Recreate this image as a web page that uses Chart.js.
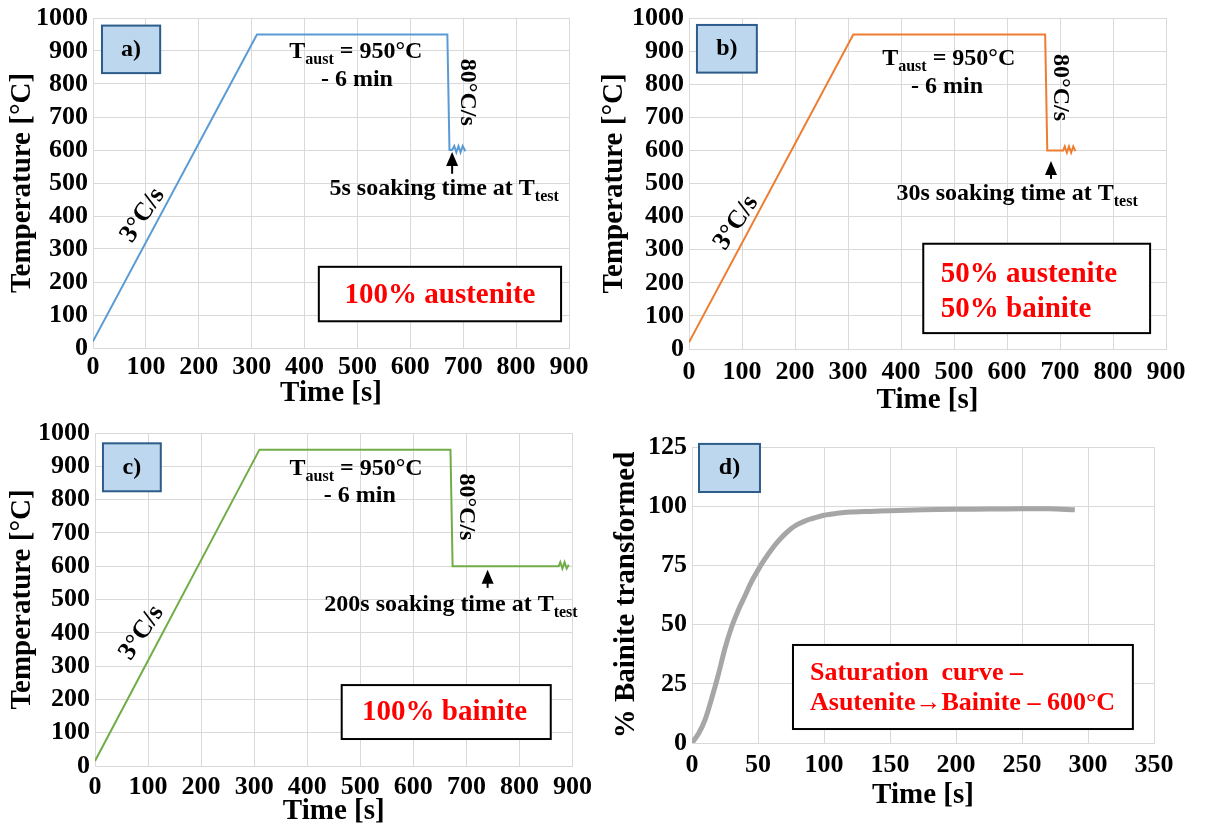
<!DOCTYPE html>
<html>
<head>
<meta charset="utf-8">
<script src="https://cdn.jsdelivr.net/npm/chart.js@4"></script>
<style>
  body { margin: 0; background: #fff; }
  #wrap { position: relative; width: 1206px; height: 825px; overflow: hidden; }
  canvas { position: absolute; }
</style>
</head>
<body>
<div id="wrap">
  <canvas id="chartA" width="600" height="412" style="left:0;top:0"></canvas>
  <canvas id="chartB" width="606" height="412" style="left:600px;top:0"></canvas>
  <canvas id="chartC" width="600" height="413" style="left:0;top:412px"></canvas>
  <canvas id="chartD" width="606" height="413" style="left:600px;top:412px"></canvas>
</div>
<script>
// 温度曲线数据 (a, b, c) 和贝氏体转变曲线 (d)
const aTime = [0, 310, 670, 674, 679, 683, 687, 691, 695, 699, 704];
const aTemp = [20, 950, 950, 600, 600, 612, 593, 612, 593, 612, 596];

const bTime = [0, 310, 672, 676, 706, 709, 713, 717, 721, 725, 729];
const bTemp = [20, 950, 950, 600, 600, 612, 593, 612, 593, 612, 598];

const cTime = [0, 310, 670, 674, 874, 877, 881, 885, 889, 893];
const cTemp = [15, 950, 950, 600, 600, 612, 593, 612, 593, 604];

const dTime = [0, 5, 10, 15, 20, 25, 30, 35, 40, 45, 50, 55, 60, 65, 70, 75, 80, 85, 90, 100, 110, 120, 135, 150, 175, 200, 225, 250, 270, 290];
const dPct  = [0, 4, 10, 19, 29, 40, 49, 56, 62, 68, 73, 77.5, 81.5, 85, 88, 90.5, 92.3, 93.6, 94.6, 96.2, 97, 97.5, 97.8, 98.1, 98.5, 98.7, 98.8, 98.9, 98.9, 98.5];

// 坐标轴刻度
const tempTicks = [0, 100, 200, 300, 400, 500, 600, 700, 800, 900, 1000];
const timeTicks = [0, 100, 200, 300, 400, 500, 600, 700, 800, 900];
const pctTicks = [0, 25, 50, 75, 100, 125];
const pctTimeTicks = [0, 50, 100, 150, 200, 250, 300, 350];

const FONT = "'Liberation Serif', 'Times New Roman', serif";

// 画注释: 方框, 文字, 箭头 (位置用数据坐标)
const overlayPlugin = {
  id: 'overlay',
  afterDatasetsDraw(chart, args, opts) {
    const ctx = chart.ctx;
    const px = v => chart.scales.x.getPixelForValue(v);
    const py = v => chart.scales.y.getPixelForValue(v);
    ctx.save();
    (opts.items || []).forEach(it => {
      if (it.type === 'box') {
        const x = px(it.x0), y = py(it.y0);
        const w = px(it.x1) - x, h = py(it.y1) - y;
        ctx.fillStyle = it.fill;
        ctx.fillRect(x, y, w, h);
        ctx.strokeStyle = it.stroke;
        ctx.lineWidth = it.lw;
        ctx.strokeRect(x, y, w, h);
      } else if (it.type === 'arrow') {
        const x = px(it.x), tip = py(it.tip), tail = py(it.tail);
        ctx.strokeStyle = '#000';
        ctx.fillStyle = '#000';
        ctx.lineWidth = 2;
        ctx.beginPath();
        ctx.moveTo(x, tip + 10);
        ctx.lineTo(x, tail);
        ctx.stroke();
        ctx.beginPath();
        ctx.moveTo(x, tip);
        ctx.lineTo(x - 6, tip + 14);
        ctx.lineTo(x + 6, tip + 14);
        ctx.closePath();
        ctx.fill();
      } else if (it.type === 'text') {
        ctx.save();
        ctx.translate(px(it.x), py(it.y));
        if (it.rotate) ctx.rotate(it.rotate * Math.PI / 180);
        ctx.fillStyle = it.color || '#000';
        ctx.textBaseline = it.baseline || 'alphabetic';
        ctx.textAlign = 'left';
        const size = it.size;
        const fontOf = p => 'bold ' + (p.sub ? Math.round(size * 0.68) : size) + 'px ' + FONT;
        let w = 0;
        it.parts.forEach(p => { ctx.font = fontOf(p); w += ctx.measureText(p.t).width; });
        let x = it.align === 'left' ? 0 : -w / 2;
        it.parts.forEach(p => {
          ctx.font = fontOf(p);
          ctx.fillText(p.t, x, p.sub ? size * 0.25 : 0);
          x += ctx.measureText(p.t).width;
        });
        ctx.restore();
      }
    });
    ctx.restore();
  }
};

function makeChart(id, cfg) {
  const tickFont = { family: FONT, size: 26, weight: 'bold', lineHeight: 1 };
  const titleFont = { family: FONT, size: 29, weight: 'bold', lineHeight: 1 };
  const grid = { color: '#d9d9d9', lineWidth: 1, drawTicks: false };
  return new Chart(document.getElementById(id), {
    type: 'line',
    data: {
      datasets: [{
        data: cfg.xs.map((x, i) => ({ x: x, y: cfg.ys[i] })),
        borderColor: cfg.color,
        borderWidth: cfg.lw,
        pointRadius: 0,
        tension: cfg.tension || 0,
        fill: false
      }]
    },
    options: {
      responsive: false,
      animation: false,
      devicePixelRatio: 1,
      layout: { padding: { top: cfg.padTop, right: cfg.padRight, left: 0, bottom: 0 } },
      plugins: {
        legend: { display: false },
        tooltip: { enabled: false },
        overlay: { items: cfg.items }
      },
      scales: {
        x: {
          type: 'linear',
          min: cfg.xTicks[0],
          max: cfg.xTicks[cfg.xTicks.length - 1],
          afterBuildTicks: s => { s.ticks = cfg.xTicks.map(v => ({ value: v })); },
          afterFit: s => { s.height = cfg.xHeight; },
          grid: grid,
          border: { color: '#d9d9d9' },
          ticks: { font: tickFont, color: '#000', padding: cfg.xTickPad, maxRotation: 0, autoSkip: false, callback: v => String(v) },
          title: { display: true, text: 'Time [s]', font: titleFont, color: '#000', padding: { top: 0, bottom: cfg.xTitlePad } }
        },
        y: {
          type: 'linear',
          min: cfg.yTicks[0],
          max: cfg.yTicks[cfg.yTicks.length - 1],
          afterBuildTicks: s => { s.ticks = cfg.yTicks.map(v => ({ value: v })); },
          afterFit: s => { s.width = cfg.yWidth; },
          grid: grid,
          border: { color: '#d9d9d9' },
          ticks: { font: tickFont, color: '#000', padding: 5, autoSkip: false, callback: v => String(v) },
          title: { display: true, text: cfg.yTitle, font: titleFont, color: '#000', padding: { top: cfg.yTitlePad, bottom: 0 } }
        }
      }
    },
    plugins: [overlayPlugin]
  });
}

const label = (x0, x1, y0, y1, txt) => [
  { type: 'box', x0: x0, x1: x1, y0: y0, y1: y1, fill: '#BDD7EE', stroke: '#2E5C8A', lw: 2 },
  { type: 'text', x: (x0 + x1) / 2, y: (y0 + y1) / 2, parts: [{ t: txt }], size: 24, baseline: 'middle' }
];
const taust = [{ t: 'T' }, { t: 'aust', sub: true }, { t: ' = 950°C' }];

makeChart('chartA', {
  xs: aTime, ys: aTemp, color: '#5B9BD5', lw: 2,
  xTicks: timeTicks, yTicks: tempTicks, yTitle: 'Temperature [°C]',
  padTop: 15, padRight: 31, yWidth: 93, xHeight: 64, yTitlePad: 8, xTitlePad: 4, xTickPad: 6,
  items: [
    ...label(17, 127, 977, 833, 'a)'),
    { type: 'box', x0: 427, x1: 885, y0: 246, y1: 81, fill: '#fff', stroke: '#000', lw: 2 },
    { type: 'text', x: 656, y: 160, parts: [{ t: '100% austenite' }], size: 29, color: '#f00', baseline: 'middle' },
    { type: 'text', x: 497, y: 880, parts: taust, size: 24 },
    { type: 'text', x: 499, y: 793, parts: [{ t: '- 6 min' }], size: 24 },
    { type: 'text', x: 707, y: 775, parts: [{ t: '80°C/s' }], size: 24, rotate: 90, baseline: 'middle' },
    { type: 'arrow', x: 679, tip: 594, tail: 528 },
    { type: 'text', x: 664, y: 465, parts: [{ t: '5s soaking time at T' }, { t: 'test', sub: true }], size: 24 },
    { type: 'text', x: 94, y: 402, parts: [{ t: '3°C/s' }], size: 26, rotate: -56, baseline: 'middle' }
  ]
});

makeChart('chartB', {
  xs: bTime, ys: bTemp, color: '#ED7D31', lw: 2,
  xTicks: timeTicks, yTicks: tempTicks, yTitle: 'Temperature [°C]',
  padTop: 16, padRight: 40, yWidth: 89, xHeight: 63, yTitlePad: 0, xTitlePad: -3, xTickPad: 10,
  items: [
    ...label(15, 128, 979, 835, 'b)'),
    { type: 'box', x0: 442, x1: 870, y0: 318, y1: 48, fill: '#fff', stroke: '#000', lw: 2 },
    { type: 'text', x: 475, y: 201, parts: [{ t: '50% austenite' }], size: 29, color: '#f00', align: 'left' },
    { type: 'text', x: 475, y: 96, parts: [{ t: '50% bainite' }], size: 29, color: '#f00', align: 'left' },
    { type: 'text', x: 490, y: 858, parts: taust, size: 24 },
    { type: 'text', x: 487, y: 772, parts: [{ t: '- 6 min' }], size: 24 },
    { type: 'text', x: 700, y: 790, parts: [{ t: '80°C/s' }], size: 24, rotate: 90, baseline: 'middle' },
    { type: 'arrow', x: 683, tip: 568, tail: 514 },
    { type: 'text', x: 619, y: 450, parts: [{ t: '30s soaking time at T' }, { t: 'test', sub: true }], size: 24 },
    { type: 'text', x: 89, y: 381, parts: [{ t: '3°C/s' }], size: 26, rotate: -56, baseline: 'middle' }
  ]
});

makeChart('chartC', {
  xs: cTime, ys: cTemp, color: '#70AD47', lw: 2,
  xTicks: timeTicks, yTicks: tempTicks, yTitle: 'Temperature [°C]',
  padTop: 21, padRight: 27, yWidth: 95, xHeight: 59, yTitlePad: 8, xTitlePad: -1, xTickPad: 8,
  items: [
    ...label(15, 124, 969, 825, 'c)'),
    { type: 'box', x0: 465, x1: 859, y0: 243, y1: 81, fill: '#fff', stroke: '#000', lw: 2 },
    { type: 'text', x: 659, y: 162, parts: [{ t: '100% bainite' }], size: 29, color: '#f00', baseline: 'middle' },
    { type: 'text', x: 492, y: 874, parts: taust, size: 24 },
    { type: 'text', x: 499, y: 793, parts: [{ t: '- 6 min' }], size: 24 },
    { type: 'text', x: 699, y: 778, parts: [{ t: '80°C/s' }], size: 24, rotate: 90, baseline: 'middle' },
    { type: 'arrow', x: 740, tip: 589, tail: 535 },
    { type: 'text', x: 671, y: 465, parts: [{ t: '200s soaking time at T' }, { t: 'test', sub: true }], size: 24 },
    { type: 'text', x: 88, y: 400, parts: [{ t: '3°C/s' }], size: 26, rotate: -56, baseline: 'middle' }
  ]
});

makeChart('chartD', {
  xs: dTime, ys: dPct, color: '#A6A6A6', lw: 5, tension: 0.3,
  xTicks: pctTimeTicks, yTicks: pctTicks, yTitle: '% Bainite transformed',
  padTop: 35, padRight: 52, yWidth: 92, xHeight: 82, yTitlePad: 12, xTitlePad: 15, xTickPad: 9,
  items: [
    ...label(5.3, 51.5, 126.3, 106, 'd)'),
    { type: 'box', x0: 76.5, x1: 334, y0: 41.4, y1: 5.9, fill: '#fff', stroke: '#000', lw: 2 },
    { type: 'text', x: 89.4, y: 26.6, parts: [{ t: 'Saturation  curve –' }], size: 26, color: '#f00', align: 'left' },
    { type: 'text', x: 89.4, y: 13.9, parts: [{ t: 'Asutenite→Bainite – 600°C' }], size: 26, color: '#f00', align: 'left' }
  ]
});
</script>
</body>
</html>
